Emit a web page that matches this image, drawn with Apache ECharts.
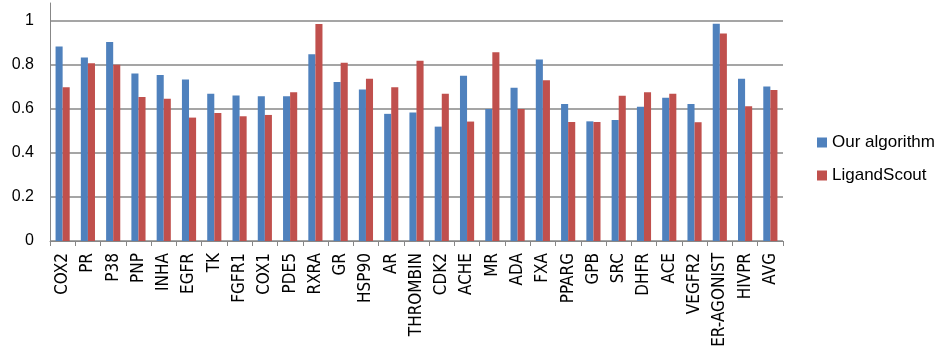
<!DOCTYPE html>
<html>
<head>
<meta charset="utf-8">
<script src="https://cdn.jsdelivr.net/npm/echarts@6/dist/echarts.min.js"></script>
<style>
    html, body { margin: 0; padding: 0; background: #fff; }
    #chart { width: 941px; height: 354px; }
</style>
</head>
<body>
<div id="chart"></div>
<script>
var categories = ['COX2', 'PR', 'P38', 'PNP', 'INHA', 'EGFR', 'TK', 'FGFR1', 'COX1', 'PDE5',
    'RXRA', 'GR', 'HSP90', 'AR', 'THROMBIN', 'CDK2', 'ACHE', 'MR', 'ADA', 'FXA',
    'PPARG', 'GPB', 'SRC', 'DHFR', 'ACE', 'VEGFR2', 'ER-AGONIST', 'HIVPR', 'AVG'];
var ourAlgorithm = [0.883, 0.833, 0.903, 0.760, 0.753, 0.733, 0.668, 0.660, 0.657, 0.657,
    0.848, 0.722, 0.687, 0.577, 0.583, 0.519, 0.750, 0.599, 0.695, 0.824,
    0.622, 0.543, 0.549, 0.609, 0.650, 0.622, 0.986, 0.736, 0.701];
var ligandScout = [0.698, 0.807, 0.800, 0.654, 0.645, 0.560, 0.581, 0.566, 0.572, 0.675,
    0.985, 0.809, 0.736, 0.698, 0.818, 0.668, 0.542, 0.857, 0.599, 0.730,
    0.540, 0.540, 0.659, 0.675, 0.668, 0.539, 0.942, 0.612, 0.685];
var yTicks = [0, 0.2, 0.4, 0.6, 0.8, 1];

var chartDom = document.getElementById('chart');
var chartInstance = echarts.init(chartDom);
var font = 'Liberation Sans, Arial, sans-serif';
var narrowFont = 'DejaVu Sans Condensed, Liberation Sans, sans-serif';
var gridColor = '#878787';

var chartOption = {
    animation: false,
    backgroundColor: '#fff',
    color: ['#4f81bd', '#c0504d'],
    grid: { left: 50, right: 158, top: 3, bottom: 113, containLabel: false, outerBoundsMode: 'none' },
    legend: {
        orient: 'vertical',
        left: 812,
        top: 129,
        itemWidth: 10,
        itemHeight: 10,
        itemGap: 16,
        icon: 'rect',
        textStyle: { fontFamily: font, fontSize: 17, color: '#000' },
        data: ['Our algorithm', 'LigandScout']
    },
    xAxis: {
        type: 'category',
        data: categories,
        boundaryGap: true,
        axisLine: { lineStyle: { color: gridColor, width: 1 } },
        axisTick: { show: true, alignWithLabel: false, length: 5, lineStyle: { color: gridColor } },
        axisLabel: {
            interval: 0,
            rotate: 90,
            margin: 12,
            fontFamily: narrowFont,
            fontSize: 17,
            color: '#000'
        }
    },
    yAxis: {
        type: 'value',
        min: 0,
        max: 1.08,
        interval: 0.2,
        axisLine: { show: true, lineStyle: { color: gridColor, width: 1 } },
        axisTick: { show: false },
        axisLabel: {
            showMaxLabel: false,
            margin: 16,
            fontFamily: font,
            fontSize: 16,
            color: '#000',
            formatter: function (v) {
                var r = Math.round(v * 10) / 10;
                return yTicks.indexOf(r) >= 0 ? String(r) : '';
            }
        },
        splitLine: { show: true, showMaxLine: false, lineStyle: { color: gridColor, width: 1.5 } }
    },
    series: [
        {
            name: 'Our algorithm',
            type: 'bar',
            barGap: '0%',
            barCategoryGap: '44%',
            data: ourAlgorithm
        },
        {
            name: 'LigandScout',
            type: 'bar',
            data: ligandScout
        }
    ]
};
chartInstance.setOption(chartOption);
</script>
</body>
</html>
